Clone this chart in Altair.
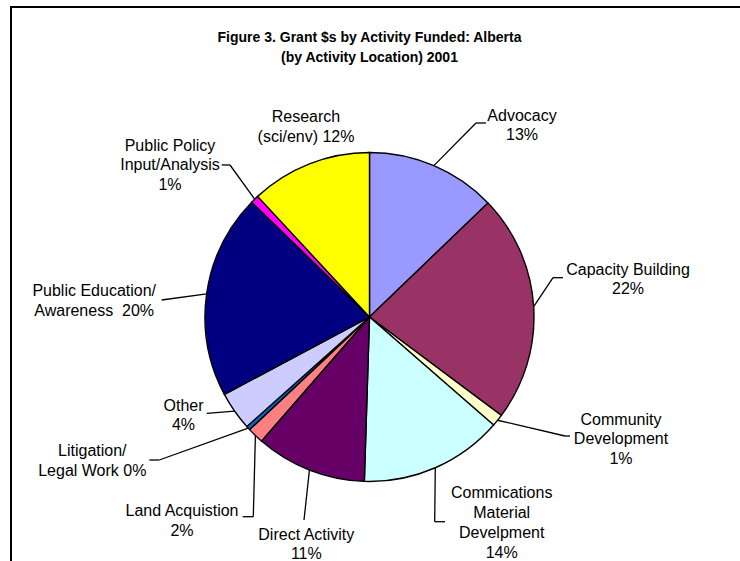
import altair as alt
import pandas as pd

# ---------------- data ----------------
categories = [
    "Advocacy", "Capacity Building", "Community Development",
    "Commications Material Develpment", "Direct Activity", "Land Acquistion",
    "Litigation/Legal Work", "Other", "Public Education/Awareness",
    "Public Policy Input/Analysis", "Research (sci/env)",
]
values = [12.8, 22.4, 1.2, 14.1, 10.9, 1.6, 0.4, 3.8, 20.1, 0.8, 11.9]
label_templates = [
    "Advocacy\n{p}", "Capacity Building\n{p}", "Community\nDevelopment\n{p}",
    "Commications\nMaterial\nDevelpment\n{p}", "Direct Activity\n{p}",
    "Land Acquistion\n{p}", "Litigation/\nLegal Work {p}", "Other\n{p}",
    "Public Education/\nAwareness\u00a0 {p}", "Public Policy\nInput/Analysis\n{p}",
    "Research\n(sci/env) {p}",
]
colors = ["#9999FF", "#993366", "#FFFFCC", "#CCFFFF", "#660066", "#FF8080",
          "#0066CC", "#CCCCFF", "#000080", "#FF00FF", "#FFFF00"]
title_lines = ["Figure 3. Grant $s by Activity Funded: Alberta",
               "(by Activity Location) 2001"]

# ---------------- layout ----------------
W, H = 740, 561
CX, CY, R = 369.5, 317, 164.5
label_x = [522, 628, 621, 501.7, 306.3, 182, 92.3, 183.5, 94.2, 170, 306]
label_y = [115, 269, 419, 492.7, 534, 510.7, 450.7, 405, 290.7, 145, 116.7]
elbow = [(476, 123), (553, 277.7), (565, 436), (434.7, 521.7), (304, 520),
         (253.3, 516.7), (159.3, 460), (206.7, 413.3), (161.7, 300),
         (230, 165), (None, None)]
tail = [(486, 123), (563, 277.7), (570, 436), (445, 521.7), (304, 520),
        (242.7, 516.7), (149.3, 460), (206.7, 413.3), (161.7, 300),
        (221.7, 165), (None, None)]

df = pd.DataFrame({
    "category": categories,
    "value": values,
    "order": list(range(len(categories))),
    "label": [t.format(p=f"{round(v):.0f}%") for t, v in zip(label_templates, values)],
    "lx": label_x,
    "ly": label_y,
    "ex": [e[0] for e in elbow],
    "ey": [e[1] for e in elbow],
    "tx": [t[0] for t in tail],
    "ty": [t[1] for t in tail],
    "has_leader": [e[0] is not None for e in elbow],
})

xs = alt.Scale(domain=[0, W], nice=False, zero=False)
ys = alt.Scale(domain=[0, H], nice=False, zero=False, reverse=True)

pie = alt.Chart(df).mark_arc(radius=R, stroke="black", strokeWidth=1.4).encode(
    theta=alt.Theta("value:Q", stack=True),
    color=alt.Color("category:N", scale=alt.Scale(domain=categories, range=colors), legend=None),
    order=alt.Order("order:Q"),
    x=alt.value(CX),
    y=alt.value(CY),
)

base = (
    alt.Chart(df)
    .transform_joinaggregate(total="sum(value)")
    .transform_window(cum="sum(value)", sort=[alt.SortField("order")], frame=[None, 0])
    .transform_calculate(
        mid="(datum.cum - datum.value / 2) / datum.total * 2 * PI",
        sx=f"{CX} + {R} * sin(datum.mid)",
        sy=f"{CY} - {R} * cos(datum.mid)",
    )
    .transform_filter("datum.has_leader")
)

lead1 = base.mark_rule(color="black", strokeWidth=1.3).encode(
    x=alt.X("sx:Q", scale=xs, axis=None),
    y=alt.Y("sy:Q", scale=ys, axis=None),
    x2="ex:Q",
    y2="ey:Q",
)
lead2 = base.mark_rule(color="black", strokeWidth=1.3).encode(
    x=alt.X("ex:Q", scale=xs, axis=None),
    y=alt.Y("ey:Q", scale=ys, axis=None),
    x2="tx:Q",
    y2="ty:Q",
)

labels = alt.Chart(df).mark_text(
    font="Liberation Sans", fontSize=16, lineBreak="\n", align="center",
    baseline="alphabetic", dy=5.5, lineHeight=19.8, color="black",
).encode(
    x=alt.X("lx:Q", scale=xs, axis=None),
    y=alt.Y("ly:Q", scale=ys, axis=None),
    text="label:N",
)

title_df = pd.DataFrame({"t": ["\n".join(title_lines)]})
title = alt.Chart(title_df).mark_text(
    font="Liberation Sans", fontSize=14, fontWeight="bold", lineBreak="\n",
    align="center", baseline="alphabetic", lineHeight=20, color="black",
).encode(x=alt.value(369.5), y=alt.value(42), text="t:N")

dummy = pd.DataFrame({"d": [0]})
frame_top = alt.Chart(dummy).mark_rule(color="black", strokeWidth=2).encode(
    x=alt.value(10), x2=alt.value(W), y=alt.value(7))
frame_left = alt.Chart(dummy).mark_rule(color="black", strokeWidth=2).encode(
    x=alt.value(11), y=alt.value(6), y2=alt.value(H))

chart = (
    alt.layer(frame_top, frame_left, pie, lead1, lead2, labels, title)
    .properties(width=W, height=H, padding=0, autosize="none", background="white")
    .configure_view(stroke=None)
)

chart.save("out.html", embed_options={"renderer": "svg", "actions": False})
